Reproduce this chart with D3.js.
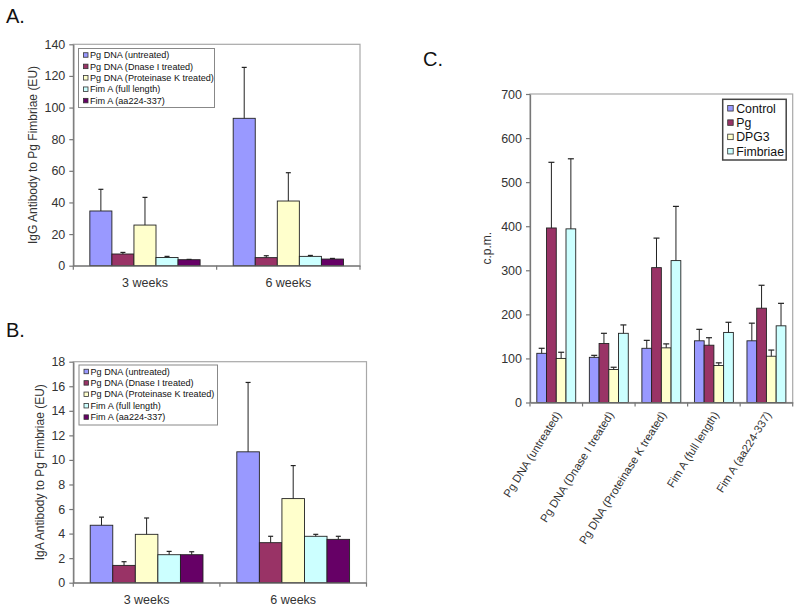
<!DOCTYPE html>
<html><head><meta charset="utf-8">
<script src="https://cdn.jsdelivr.net/npm/d3@7"></script>
<style>
body{margin:0;background:#fff}
svg{display:block;font-family:"Liberation Sans",Arial,sans-serif}
</style>
</head><body>
<svg id="chart" width="800" height="608"></svg>
<script>
// ---------- DATA ----------
const timePoints = ["3 weeks", "6 weeks"];
const antigens = ["Pg DNA (untreated)", "Pg DNA (Dnase I treated)", "Pg DNA (Proteinase K treated)", "Fim A (full length)", "Fim A (aa224-337)"];

// Panel A: IgG (EU), means and SD per antigen
const iggMean3w = [34.6, 7.4, 25.7, 5.2, 3.8];
const iggSd3w   = [13.7, 1.0, 17.5, 0.7, 0.2];
const iggMean6w = [93.2, 5.1, 40.9, 5.9, 4.2];
const iggSd6w   = [32.2, 1.2, 17.9, 0.6, 0.4];
const iggTicks  = [0, 20, 40, 60, 80, 100, 120, 140];

// Panel B: IgA (EU)
const igaMean3w = [4.68, 1.41, 3.94, 2.28, 2.28];
const igaSd3w   = [0.66, 0.30, 1.33, 0.27, 0.24];
const igaMean6w = [10.66, 3.26, 6.85, 3.78, 3.53];
const igaSd6w   = [5.65, 0.52, 2.69, 0.16, 0.25];
const igaTicks  = [0, 2, 4, 6, 8, 10, 12, 14, 16, 18];

// Panel C: c.p.m. per stimulus (series) across antigens (categories)
const stimuli = ["Control", "Pg", "DPG3", "Fimbriae"];
const cpmControl  = [111.6, 102.5, 123, 140, 140];
const cpmControlSd = [11.4, 4.5, 18, 26, 40];
const cpmPg       = [396, 134, 306, 130, 214];
const cpmPgSd     = [149, 23, 67, 17, 52];
const cpmDPG3     = [100, 75, 124, 84, 105];
const cpmDPG3Sd   = [14, 5, 9, 6, 14];
const cpmFimbriae = [394, 157, 322, 159, 174];
const cpmFimbriaeSd = [159, 19, 123, 23, 51];
const cpmTicks = [0, 100, 200, 300, 400, 500, 600, 700];

// ---------- STYLE ----------
const colors5 = ["#9999ff", "#993366", "#ffffcc", "#ccffff", "#660066"];
const colors4 = ["#9999ff", "#993366", "#ffffcc", "#ccffff"];

const svg = d3.select("#chart");

function panel(cfg) {
  const g = svg.append("g");
  const x0 = d3.scaleBand().domain(cfg.groups).range([cfg.left, cfg.right]).padding(0);
  const x1 = d3.scaleBand().domain(cfg.series).range([0, x0.bandwidth()])
    .paddingInner(0).paddingOuter(cfg.po);
  const ticks = cfg.ticks;
  const y = d3.scaleLinear().domain([0, ticks[ticks.length - 1]]).range([cfg.bottom, cfg.top]);

  // plot frame
  g.append("rect").attr("x", cfg.left).attr("y", cfg.top)
    .attr("width", cfg.right - cfg.left).attr("height", cfg.bottom - cfg.top)
    .attr("fill", "#fff").attr("stroke", "#a8a8a8").attr("stroke-width", 1.2);

  // bars + error bars
  cfg.groups.forEach((grp, gi) => {
    cfg.series.forEach((s, si) => {
      const v = cfg.mean(gi, si), e = cfg.sd(gi, si);
      const bx = x0(grp) + x1(s), bw = x1.bandwidth();
      g.append("rect").attr("x", bx).attr("y", y(v))
        .attr("width", bw).attr("height", y(0) - y(v))
        .attr("fill", cfg.colors[si]).attr("stroke", "#222").attr("stroke-width", 0.9);
      const cx = bx + bw / 2;
      g.append("line").attr("x1", cx).attr("x2", cx).attr("y1", y(v)).attr("y2", y(v + e))
        .attr("stroke", "#222").attr("stroke-width", 1);
      g.append("line").attr("x1", cx - cfg.cap).attr("x2", cx + cfg.cap)
        .attr("y1", y(v + e)).attr("y2", y(v + e))
        .attr("stroke", "#222").attr("stroke-width", 1.2);
    });
  });

  // y axis
  const ya = g.append("g").attr("transform", `translate(${cfg.left},0)`)
    .call(d3.axisLeft(y).tickValues(ticks).tickSize(4).tickSizeOuter(0).tickPadding(4));
  ya.select(".domain").attr("stroke", "#777").attr("stroke-width", 1.3);
  ya.selectAll(".tick line").attr("stroke", "#777").attr("stroke-width", 1.2);
  ya.selectAll(".tick text").attr("fill", "#333").attr("font-size", 12.5)
    .attr("font-family", "Liberation Sans, Arial, sans-serif");

  // x axis
  const xa = g.append("g").attr("transform", `translate(0,${cfg.bottom})`)
    .call(d3.axisBottom(x0).tickSize(0).tickSizeOuter(0).tickFormat(""));
  xa.select(".domain").attr("stroke", "#777").attr("stroke-width", 1.3);
  const bounds = cfg.groups.map(d => x0(d)).concat([cfg.right]);
  g.selectAll(null).data(bounds).enter().append("line")
    .attr("x1", d => d).attr("x2", d => d)
    .attr("y1", cfg.bottom).attr("y2", cfg.bottom + 4)
    .attr("stroke", "#777").attr("stroke-width", 1.2);

  if (cfg.rotateLabels) {
    g.selectAll(null).data(cfg.groups).enter().append("text")
      .attr("transform", d => `translate(${x0(d) + x0.bandwidth() / 2 + 2},${cfg.bottom + 10}) rotate(-58)`)
      .attr("text-anchor", "end").attr("dy", "0.35em")
      .attr("font-size", 11.3).attr("fill", "#333").text(d => d);
  } else {
    g.selectAll(null).data(cfg.groups).enter().append("text")
      .attr("x", d => x0(d) + x0.bandwidth() / 2).attr("y", cfg.bottom + 21)
      .attr("text-anchor", "middle").attr("font-size", 12.5).attr("fill", "#333").text(d => d);
  }

  // y title
  g.append("text")
    .attr("transform", `translate(${cfg.titleX},${(cfg.top + cfg.bottom) / 2}) rotate(-90)`)
    .attr("text-anchor", "middle").attr("dy", "0.35em")
    .attr("font-size", 12).attr("fill", "#333").text(cfg.yTitle);

  // legend
  const L = cfg.legend;
  g.append("rect").attr("x", L.x).attr("y", L.y).attr("width", L.w).attr("height", L.h)
    .attr("fill", "#fff").attr("stroke", L.stroke).attr("stroke-width", L.sw);
  cfg.series.forEach((s, si) => {
    const cy = L.y + L.first + si * L.row;
    g.append("rect").attr("x", L.x + L.mx).attr("y", cy - L.m / 2)
      .attr("width", L.m).attr("height", L.m)
      .attr("fill", cfg.colors[si]).attr("stroke", "#333").attr("stroke-width", 0.8);
    g.append("text").attr("x", L.x + L.tx).attr("y", cy).attr("dy", "0.35em")
      .attr("font-size", L.font).attr("fill", "#111").text(s);
  });

  // panel letter
  svg.append("text").attr("x", cfg.letterX).attr("y", cfg.letterY)
    .attr("font-size", 20).attr("fill", "#111").text(cfg.letter);
}

// Panel A
const iggMeans = [iggMean3w, iggMean6w], iggSds = [iggSd3w, iggSd6w];
panel({
  left: 73.3, right: 360, top: 44.3, bottom: 265.7,
  groups: timePoints, series: antigens, colors: colors5, po: 0.75, cap: 2.5,
  ticks: iggTicks,
  mean: (gi, si) => iggMeans[gi][si], sd: (gi, si) => iggSds[gi][si],
  yTitle: "IgG Antibody to Pg Fimbriae (EU)", titleX: 33,
  legend: {x: 78.5, y: 48.5, w: 136, h: 59, first: 6.5, row: 11.4, mx: 5, m: 4.5, tx: 11.5, font: 9.1, stroke: "#888", sw: 1},
  letter: "A.", letterX: 6, letterY: 22.5
});

// Panel B
const igaMeans = [igaMean3w, igaMean6w], igaSds = [igaSd3w, igaSd6w];
panel({
  left: 73.3, right: 366.5, top: 361.7, bottom: 582.7,
  groups: timePoints, series: antigens, colors: colors5, po: 0.75, cap: 2.5,
  ticks: igaTicks,
  mean: (gi, si) => igaMeans[gi][si], sd: (gi, si) => igaSds[gi][si],
  yTitle: "IgA Antibody to Pg Fimbriae (EU)", titleX: 40,
  legend: {x: 79, y: 365, w: 138.5, h: 60, first: 6.5, row: 11.4, mx: 5, m: 4.5, tx: 11.5, font: 9.1, stroke: "#888", sw: 1},
  letter: "B.", letterX: 6, letterY: 336.5
});

// Panel C
const cpmMeans = [cpmControl, cpmPg, cpmDPG3, cpmFimbriae];
const cpmSds = [cpmControlSd, cpmPgSd, cpmDPG3Sd, cpmFimbriaeSd];
panel({
  left: 530, right: 792.7, top: 94, bottom: 402.5,
  groups: antigens, series: stimuli, colors: colors4, po: 0.7, cap: 3,
  ticks: cpmTicks, rotateLabels: true,
  mean: (gi, si) => cpmMeans[si][gi], sd: (gi, si) => cpmSds[si][gi],
  yTitle: "c.p.m.", titleX: 487,
  legend: {x: 722.7, y: 99.3, w: 63.5, h: 60.7, first: 9, row: 14.3, mx: 5, m: 5.5, tx: 13.5, font: 12.3, stroke: "#444", sw: 1.5},
  letter: "C.", letterX: 423, letterY: 66
});
</script>
</body></html>
